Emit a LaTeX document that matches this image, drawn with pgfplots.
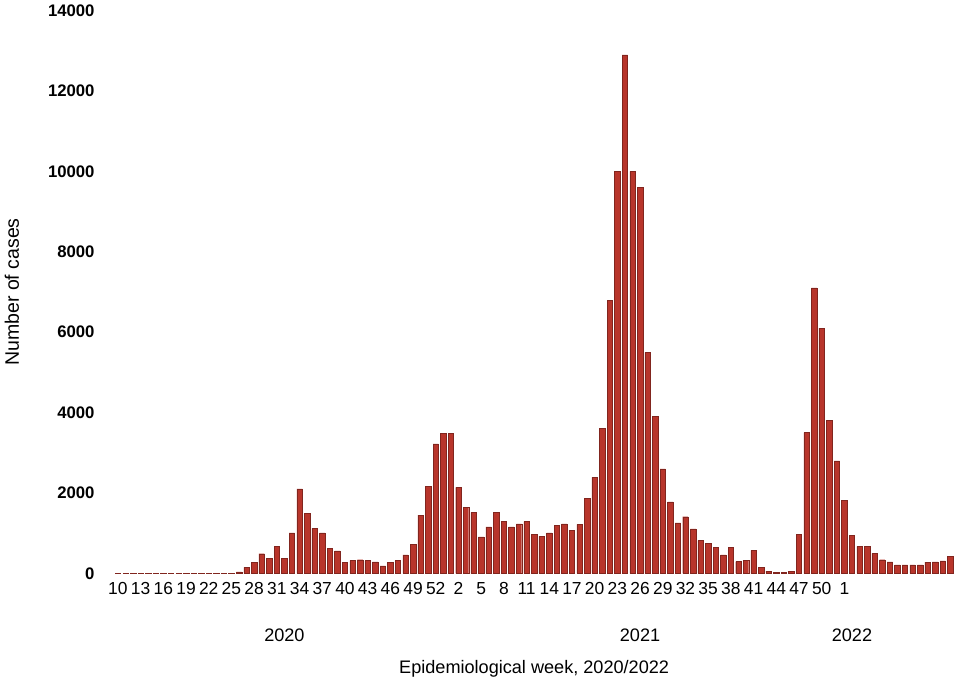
\documentclass[border=0pt]{standalone}
\usepackage{pgfplots}
\pgfplotsset{compat=1.18}
\usepackage{fontspec}
\setmainfont{Liberation Sans}
\definecolor{barred}{HTML}{B8352B}
\begin{document}
\begin{tikzpicture}
\begin{axis}[
  scale only axis, width=604pt, height=404pt,
  ymin=0, ymax=14000, ytick={0,2000,...,14000},
  xmin=-0.6, xmax=110.6,
  axis line style={draw=none},
  scaled y ticks=false,
  /pgf/number format/assume math mode=true,
  /pgf/number format/1000 sep={},
  yticklabel style={font=\bfseries\fontsize{12}{12}\selectfont, xshift=-10pt},
  xtick={0,3,...,42,45,48,...,93,96},
  xticklabels={10,13,16,19,22,25,28,31,34,37,40,43,46,49,52,2,5,8,11,14,17,20,23,26,29,32,35,38,41,44,47,50,1},
  xticklabel style={font=\fontsize{12.5}{12}\selectfont, inner sep=0pt, yshift=-6pt},
  major tick length=0pt,
  ylabel={Number of cases}, ylabel style={font=\fontsize{14}{14}\selectfont, yshift=14pt},
  xlabel={Epidemiological week, 2020/2022}, xlabel style={font=\fontsize{13}{13}\selectfont, yshift=-44pt},
  clip=false,
]
\addplot[ybar, bar width=0.72, fill=barred, draw=barred!70!black, line width=0.3pt] table[x expr=\coordindex, y=v] {
v
3
3
3
3
3
3
3
3
3
3
3
3
3
3
3
5
40
150
280
490
380
670
380
1010
2100
1500
1120
1010
630
560
270
320
340
320
290
185
270
320
460
715
1450
2170
3220
3490
3490
2140
1650
1520
910
1160
1520
1300
1160
1230
1290
980
920
1010
1190
1230
1075
1220
1860
2390
3600
6800
10000
12900
10000
9600
5500
3900
2600
1780
1260
1410
1110
815
740
650
460
655
295
320
570
150
60
20
20
60
970
3500
7100
6100
3800
2800
1820
950
670
670
500
340
290
210
210
210
210
280
290
310
420
};
\node[font=\fontsize{13}{13}\selectfont] at (axis cs:22,-1550) {2020};
\node[font=\fontsize{13}{13}\selectfont] at (axis cs:69,-1550) {2021};
\node[font=\fontsize{13}{13}\selectfont] at (axis cs:97,-1550) {2022};
\end{axis}
\end{tikzpicture}
\end{document}
